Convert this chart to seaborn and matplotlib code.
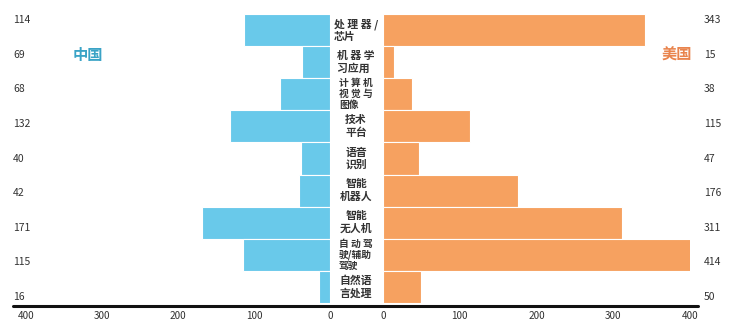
import matplotlib
matplotlib.use("Agg")
import matplotlib.pyplot as plt
import matplotlib.transforms as mtrans
from matplotlib.lines import Line2D
import seaborn as sns
import pandas as pd

sns.set_theme(style="white")
plt.rcParams['font.family'] = ['Noto Sans CJK SC', 'DejaVu Sans']

categories = ["处 理 器 /\n芯片", "机 器 学\n习应用", "计 算 机\n视 觉 与\n图像", "技术\n平台",
              "语音\n识别", "智能\n机器人", "智能\n无人机", "自 动 驾\n驶/辅助\n驾驶", "自然语\n言处理"]
china_bar = [113, 37, 66, 131, 38, 41, 169, 115, 15]
china_label = [114, 69, 68, 132, 40, 42, 171, 115, 16]
usa_bar = [341, 14, 38, 114, 47, 176, 311, 413, 50]
usa_label = [343, 15, 38, 115, 47, 176, 311, 414, 50]
ticks = [0, 100, 200, 300, 400]

blue = "#69C9EA"
orange = "#F6A160"
txt = "#333333"

W, H = 732, 322
fig = plt.figure(figsize=(W / 100, H / 100), dpi=100)


def box(x0, y0, x1, y1):
    return [x0 / W, 1 - y1 / H, (x1 - x0) / W, (y1 - y0) / H]


df = pd.DataFrame({"cat": categories, "cn": china_bar, "us": usa_bar})

axL = fig.add_axes(box(26, 14, 330, 303))
sns.barplot(data=df, x="cn", y="cat", orient="h", ax=axL, color=blue,
            width=1.0, edgecolor="white", linewidth=0.8, saturation=1)
axL.set_xlim(400, 0)

axR = fig.add_axes(box(383, 14, 690, 303))
sns.barplot(data=df, x="us", y="cat", orient="h", ax=axR, color=orange,
            width=1.0, edgecolor="white", linewidth=0.8, saturation=1)
axR.set_xlim(0, 400)

for ax in (axL, axR):
    ax.set_ylim(len(categories) - 0.5, -0.5)
    ax.set_xticks(ticks)
    ax.set_xticklabels([str(t) for t in ticks], fontsize=7.2, color=txt)
    ax.tick_params(axis="x", length=0, pad=5.5)
    ax.set_yticks([])
    ax.set_xlabel("")
    ax.set_ylabel("")
    for s in ax.spines.values():
        s.set_visible(False)
    ax.patch.set_alpha(0)

# category labels in the centre
tr = mtrans.blended_transform_factory(fig.transFigure, axL.transData)
for i, c in enumerate(categories):
    three = c.count("\n") >= 2
    ma = "left" if " " in c else "center"
    fig.text(356 / W, i, c, transform=tr, ha="center", va="center",
             multialignment=ma, fontsize=7.0 if three else 7.8,
             fontweight="bold", color=txt,
             linespacing=1.12 if three else 1.3)

# value label columns
for x0, vals in ((13, china_label), (704, usa_label)):
    axv = fig.add_axes(box(x0, 3, x0 + 25, 314))
    axv.set_xlim(0, 1)
    axv.set_ylim(len(vals) - 0.5, -0.5)
    axv.axis("off")
    for i, v in enumerate(vals):
        axv.text(0, i, str(v), ha="left", va="center", fontsize=7.5, color=txt)

# bottom axis line
fig.add_artist(Line2D([13 / W, 698 / W], [1 - 306 / H, 1 - 306 / H],
                      color="#111111", lw=2.2, transform=fig.transFigure))

fig.text(88 / W, 1 - 55 / H, "中国", ha="center", va="center", fontsize=11,
         color="#3AA3C6", fontweight="bold")
fig.text(677 / W, 1 - 55 / H, "美国", ha="center", va="center", fontsize=11,
         color="#E9844D", fontweight="bold")

fig.savefig("out.png", dpi=100)
